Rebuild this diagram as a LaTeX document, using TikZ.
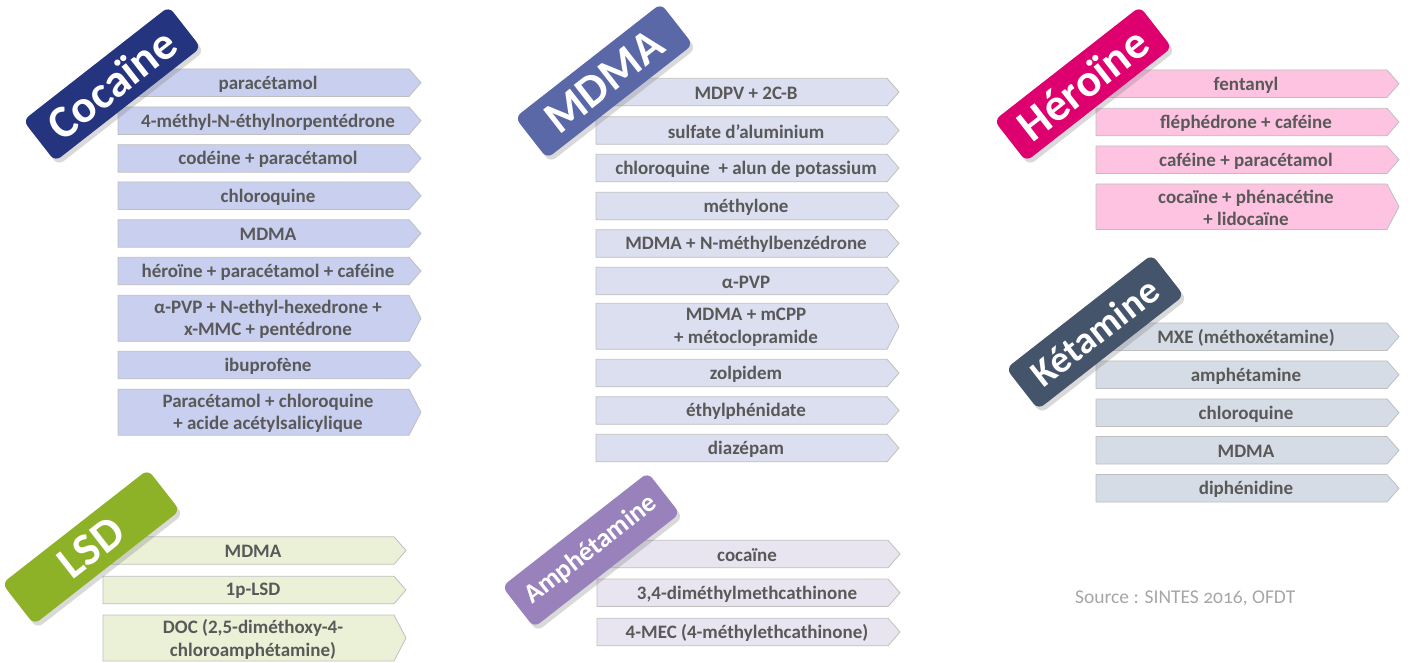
\documentclass[tikz,border=0pt]{standalone}
\usepackage{fontspec}
\setmainfont{Carlito}
\usetikzlibrary{shadows}
\definecolor{txt}{HTML}{595959}
\definecolor{bord}{HTML}{BFBFBF}
\definecolor{srcgrey}{HTML}{A6A6A6}
\definecolor{cocL}{HTML}{25347F}
\definecolor{mdmL}{HTML}{5A68A8}
\definecolor{herL}{HTML}{DE006F}
\definecolor{ketL}{HTML}{44546A}
\definecolor{lsdL}{HTML}{8EB227}
\definecolor{ampL}{HTML}{9982BC}
\definecolor{cocF}{HTML}{C9CFEF}
\definecolor{mdmF}{HTML}{DCDFEF}
\definecolor{herF}{HTML}{FEC3E0}
\definecolor{ketF}{HTML}{D6DCE5}
\definecolor{lsdF}{HTML}{EBF1D7}
\definecolor{ampF}{HTML}{E8E5F1}
\tikzset{
  itemtext/.style={font=\bfseries\fontsize{19}{22.5}\selectfont, text=txt, align=center, inner sep=0pt},
  chev/.style={draw=bord, line width=0.8pt},
  tag/.style={rounded corners=7pt, minimum width=185pt, minimum height=52pt, text=white,
    font=\bfseries\fontsize{46}{46}\selectfont, inner sep=0pt, rotate=38,
    drop shadow={opacity=0.3, shadow xshift=3pt, shadow yshift=-4pt}},
  srctext/.style={font=\fontsize{19.5}{19.5}\selectfont, text=srcgrey, inner sep=0pt, anchor=west}
}
\newcommand\itm[6]{%
  \path[chev, fill=#5] (#2,#3-#4/2) -- ++(291,0) -- ++(12,#4/2) -- ++(-12,#4/2) -- ++(-291,0) -- cycle;
  \node[itemtext] (#1) at (#2+150,#3+1.2) {#6};
}
\begin{document}
\begin{tikzpicture}[x=1pt,y=-1pt]
\useasboundingbox (0,0) rectangle (1411,662);
% Cocaine
\itm{c1}{118}{82.7}{27.5}{cocF}{paracétamol}
\itm{c2}{118}{120.7}{27.5}{cocF}{4-méthyl-N-éthylnorpentédrone}
\itm{c3}{118}{158.4}{27.5}{cocF}{codéine + paracétamol}
\itm{c4}{118}{195.7}{27.5}{cocF}{chloroquine}
\itm{c5}{118}{233.4}{27.5}{cocF}{MDMA}
\itm{c6}{118}{271}{27.5}{cocF}{héroïne + paracétamol + caféine}
\itm{c7}{118}{318.3}{46}{cocF}{α-PVP + N-ethyl-hexedrone +\\x-MMC + pentédrone}
\itm{c8}{118}{365}{27.5}{cocF}{ibuprofène}
\itm{c9}{118}{412.2}{46}{cocF}{Paracétamol + chloroquine\\+ acide acétylsalicylique}
% MDMA
\itm{m1}{596}{92}{27.5}{mdmF}{MDPV + 2C-B}
\itm{m2}{596}{130.5}{27.5}{mdmF}{sulfate d’aluminium}
\itm{m3}{596}{168}{27.5}{mdmF}{chloroquine \ + alun de potassium}
\itm{m4}{596}{206}{27.5}{mdmF}{méthylone}
\itm{m5}{596}{243.5}{27.5}{mdmF}{MDMA + N-méthylbenzédrone}
\itm{m6}{596}{281}{27.5}{mdmF}{α-PVP}
\itm{m7}{596}{326.3}{46}{mdmF}{MDMA + mCPP\\+ métoclopramide}
\itm{m8}{596}{373}{27.5}{mdmF}{zolpidem}
\itm{m9}{596}{410.5}{27.5}{mdmF}{éthylphénidate}
\itm{m10}{596}{448}{27.5}{mdmF}{diazépam}
% Heroine
\itm{h1}{1096}{83.7}{27.5}{herF}{fentanyl}
\itm{h2}{1096}{122}{27.5}{herF}{fléphédrone + caféine}
\itm{h3}{1096}{159.7}{27.5}{herF}{caféine + paracétamol}
\itm{h4}{1096}{206.7}{45.5}{herF}{cocaïne + phénacétine\\+ lidocaïne}
% Ketamine
\itm{k1}{1096}{336.7}{27.5}{ketF}{MXE (méthoxétamine)}
\itm{k2}{1096}{374.7}{27.5}{ketF}{amphétamine}
\itm{k3}{1096}{412.7}{27.5}{ketF}{chloroquine}
\itm{k4}{1096}{450.3}{27.5}{ketF}{MDMA}
\itm{k5}{1096}{488.3}{27.5}{ketF}{diphénidine}
% LSD
\itm{l1}{103}{550.5}{27.5}{lsdF}{MDMA}
\itm{l2}{103}{590}{27.5}{lsdF}{1p-LSD}
\itm{l3}{103}{638}{46}{lsdF}{DOC (2,5-diméthoxy-4-\\chloroamphétamine)}
% Amphetamine
\itm{a1}{597}{554}{27.5}{ampF}{cocaïne}
\itm{a2}{597}{592.8}{27.5}{ampF}{3,4-diméthylmethcathinone}
\itm{a3}{597}{632}{27.5}{ampF}{4-MEC (4-méthylethcathinone)}
% Labels
\node[tag, fill=cocL] (tcoc) at (112,84) {Cocaïne};
\node[tag, fill=mdmL] (tmdm) at (604,81) {MDMA};
\node[tag, fill=herL] (ther) at (1083,84) {Héroïne};
\node[tag, fill=ketL, font=\bfseries\fontsize{38}{38}\selectfont] (tket) at (1095,332) {Kétamine};
\node[tag, fill=lsdL] (tlsd) at (91,547) {LSD};
\node[tag, fill=ampL, font=\bfseries\fontsize{27}{27}\selectfont] (tamp) at (591,550) {Amphétamine};
% Source
\node[srctext] (src) at (1075,598) {\addfontfeature{Numbers=OldStyle}Source : SINTES 2016, OFDT};
\end{tikzpicture}
\end{document}
